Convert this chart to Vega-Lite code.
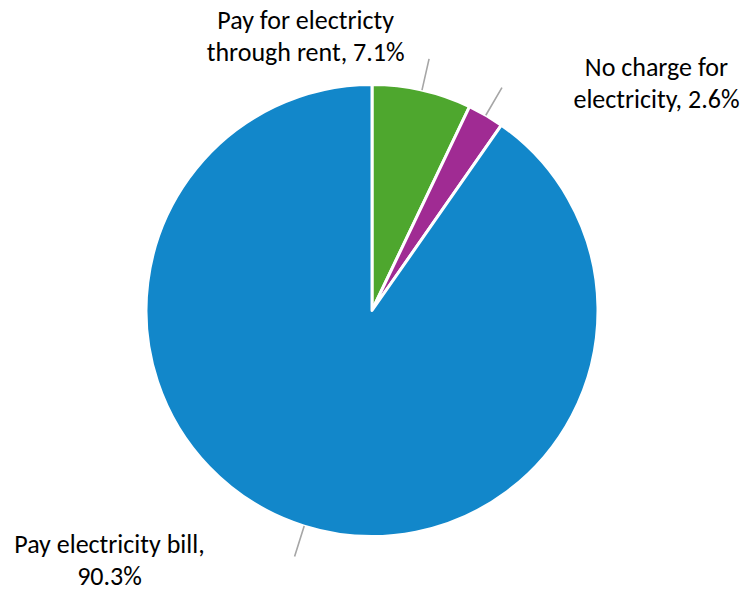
{
  "$schema": "https://vega.github.io/schema/vega-lite/v6.json",
  "width": 744,
  "height": 561,
  "padding": {"top": 30, "left": 0, "right": 4, "bottom": 0},
  "autosize": {"type": "none"},
  "background": "white",
  "view": {"stroke": null},
  "config": {"font": "Carlito, Lato, sans-serif"},
  "data": {
    "values": [
      {"category": "Pay for electricty through rent", "value": 7.1, "label": "Pay for electricty\nthrough rent, 7.1%"},
      {"category": "No charge for electricity", "value": 2.6, "label": "No charge for\nelectricity, 2.6%"},
      {"category": "Pay electricity bill", "value": 90.3, "label": "Pay electricity bill,\n90.3%"}
    ]
  },
  "transform": [
    {"stack": "value", "groupby": [], "as": ["start", "end"]},
    {"fold": ["start", "end"], "as": ["edge", "angle"]},
    {"aggregate": [{"op": "mean", "field": "angle", "as": "mid"}], "groupby": ["category", "value", "label", "start", "end"]}
  ],
  "layer": [
    {
      "mark": {"type": "arc", "outerRadius": 226, "stroke": "white", "strokeWidth": 3, "strokeJoin": "round"},
      "encoding": {
        "theta": {"field": "start", "type": "quantitative", "scale": {"domain": [0, 100]}},
        "theta2": {"field": "end"},
        "color": {
          "field": "category", "type": "nominal", "legend": null,
          "scale": {
            "domain": ["Pay for electricty through rent", "No charge for electricity", "Pay electricity bill"],
            "range": ["#4EA72E", "#A02B93", "#1287CA"]
          }
        }
      }
    },
    {
      "mark": {"type": "arc", "innerRadius": 226, "outerRadius": 258, "stroke": "#A6A6A6", "strokeWidth": 1.6, "fill": null},
      "encoding": {
        "theta": {"field": "mid", "type": "quantitative", "scale": {"domain": [0, 100]}},
        "theta2": {"field": "mid"}
      }
    },
    {
      "transform": [{"filter": "datum.value == 7.1"}],
      "mark": {"type": "text", "radius": 265, "dx": -125, "dy": -23, "align": "center", "baseline": "alphabetic", "lineBreak": "\n", "lineHeight": 32, "fontSize": 26, "color": "#000000"},
      "encoding": {
        "theta": {"field": "mid", "type": "quantitative", "scale": {"domain": [0, 100]}},
        "text": {"field": "label"}
      }
    },
    {
      "transform": [{"filter": "datum.value == 2.6"}],
      "mark": {"type": "text", "radius": 265, "dx": 151, "dy": -6, "align": "center", "baseline": "alphabetic", "lineBreak": "\n", "lineHeight": 32, "fontSize": 26, "color": "#000000"},
      "encoding": {
        "theta": {"field": "mid", "type": "quantitative", "scale": {"domain": [0, 100]}},
        "text": {"field": "label"}
      }
    },
    {
      "transform": [{"filter": "datum.value == 90.3"}],
      "mark": {"type": "text", "radius": 265, "dx": -183, "dy": -10, "align": "center", "baseline": "alphabetic", "lineBreak": "\n", "lineHeight": 32, "fontSize": 26, "color": "#000000"},
      "encoding": {
        "theta": {"field": "mid", "type": "quantitative", "scale": {"domain": [0, 100]}},
        "text": {"field": "label"}
      }
    }
  ]
}
